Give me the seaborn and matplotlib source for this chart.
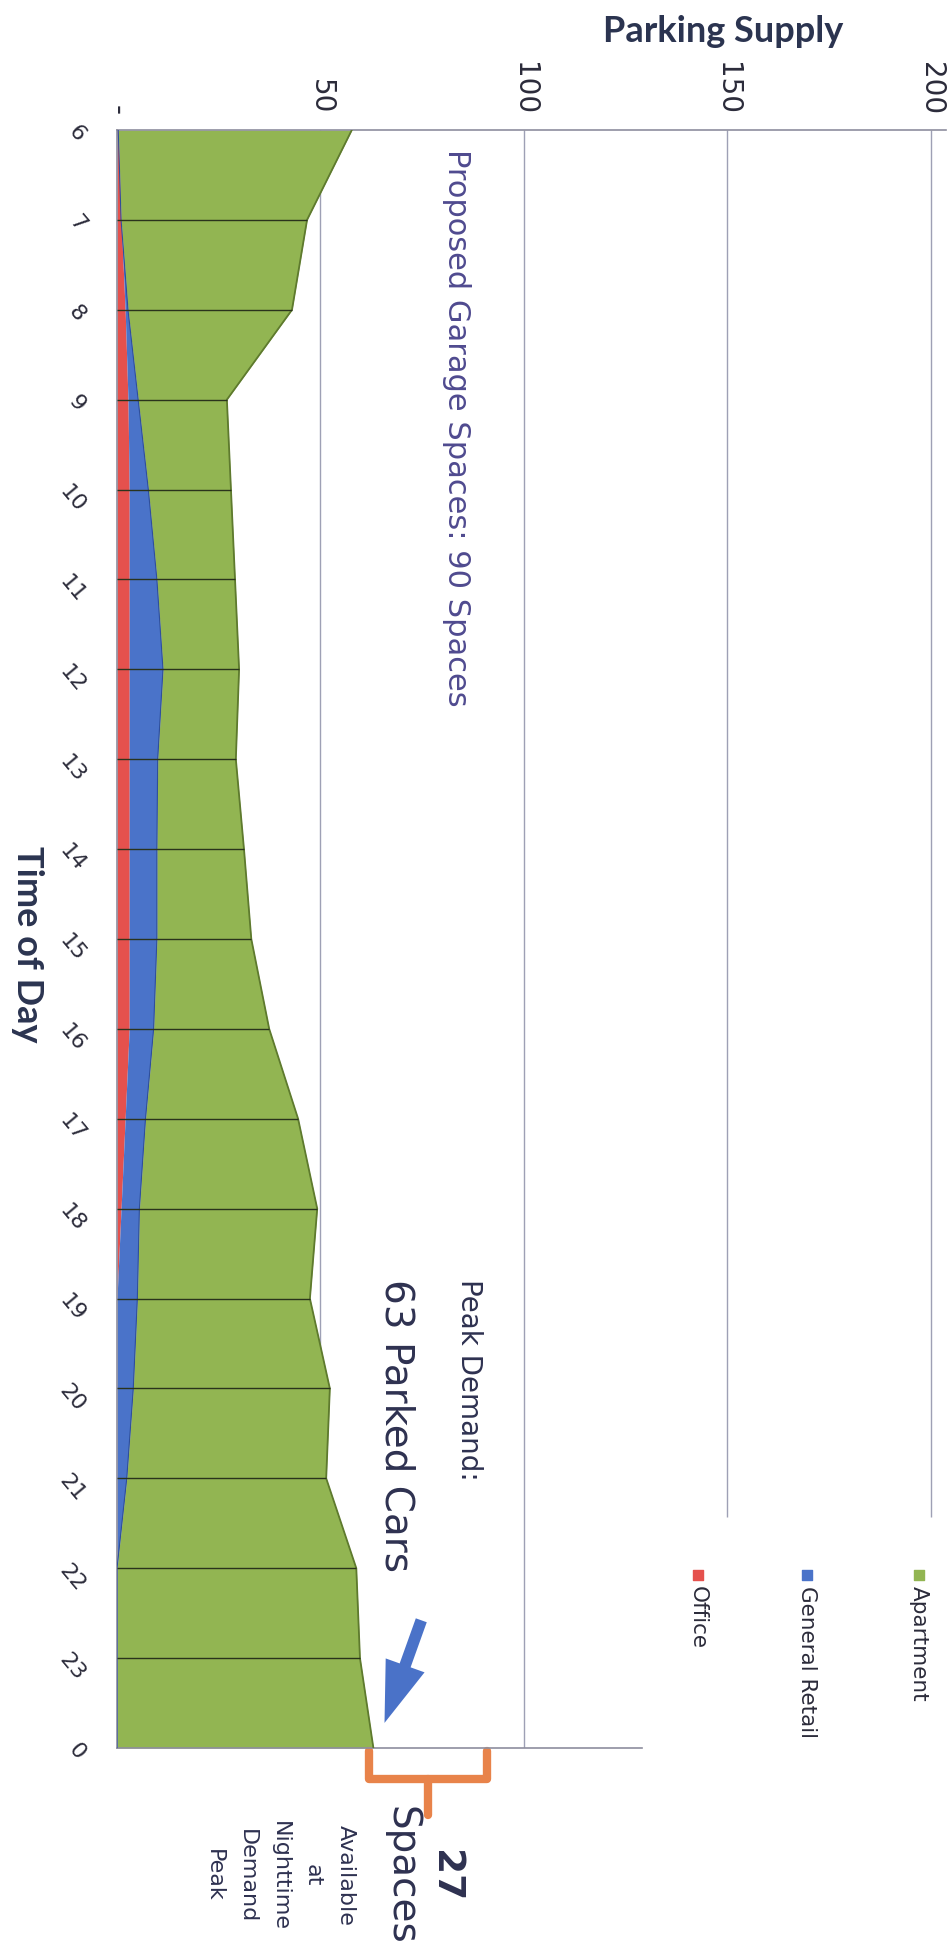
import numpy as np
import pandas as pd
import matplotlib
matplotlib.use("Agg")
import matplotlib.pyplot as plt
import seaborn as sns

# donnees (heure 6 -> 0)
hours = list(range(6, 25))
hour_labels = [str(h % 24) for h in hours]
office = [0.3, 1, 2, 2.7, 3, 3, 3, 3, 3, 3, 3, 2, 1, 0, 0, 0, 0, 0, 0]
retail = [0, 0, 0.7, 2.5, 4.7, 6.8, 8.3, 7, 6.8, 6.8, 6, 5, 4.5, 5, 4, 2.4, 0, 0, 0]
apartment = [57.4, 45.7, 40.3, 21.8, 20.3, 19.2, 18.7, 19.2, 21.4, 23.2, 28.4,
             37.5, 43.7, 42.4, 48.3, 49, 58.8, 59.7, 63]
series_names = ["Apartment", "General Retail", "Office"]
series_colors = ["#92B552", "#4A73C9", "#E5514D"]
supply_ticks = [0, 50, 100, 150, 200]
supply_labels = ["-", "50", "100", "150", "200"]
garage_spaces = 90

df = pd.DataFrame({"hour": hours, "Office": office, "General Retail": retail,
                   "Apartment": apartment})
df["c_office"] = df["Office"]
df["c_retail"] = df["c_office"] + df["General Retail"]
df["total"] = df["c_retail"] + df["Apartment"]
peak = int(round(df["total"].max()))

sns.set_style("white")
plt.rcParams["font.family"] = ["Lato", "DejaVu Sans"]
txt_col = "#2E3150"

fig = plt.figure(figsize=(9.51, 19.47), dpi=100)
ax = fig.add_axes([117 / 951, 1 - 1748 / 1947, 829 / 951, 1618 / 1947])

# grille verticale (derriere les aires)
ax.vlines([50, 100], 6, 24, color="#9EA0B5", lw=1, zorder=0)
ax.vlines([150, 200], 6, 21.43, color="#9EA0B5", lw=1, zorder=0)

# aires empilees
ax.fill_betweenx(df["hour"], 0, df["c_office"], color=series_colors[2], lw=0, zorder=2)
ax.fill_betweenx(df["hour"], df["c_office"], df["c_retail"], color=series_colors[1],
                 lw=0, zorder=2)
ax.fill_betweenx(df["hour"], df["c_retail"], df["total"], color=series_colors[0],
                 lw=0, zorder=2)
sns.lineplot(data=df, x="total", y="hour", orient="y", ax=ax, color="#5E7A2E",
             lw=1.3, zorder=3, estimator=None)
sns.lineplot(data=df, x="c_retail", y="hour", orient="y", ax=ax, color="#2F4F9A",
             lw=0.8, zorder=3, estimator=None)
ax.hlines(df["hour"][1:-1], 0, df["total"][1:-1], color="#2A331C", lw=1, zorder=4)

ax.set_xlim(0, 203.7)
ax.set_ylim(24, 6)
ax.set_xlabel("")
ax.set_ylabel("")

ax.xaxis.tick_top()
ax.set_xticks(supply_ticks)
ax.set_xticklabels(supply_labels, rotation=-90, fontsize=20, color="#2B2B3A",
                   family=["DejaVu Sans"])
ax.tick_params(axis="x", length=0, pad=11)
ax.set_yticks(hours)
ax.set_yticklabels(hour_labels, rotation=-50, fontsize=16, color="#2B2B3A",
                   family=["DejaVu Sans"])
ax.tick_params(axis="y", length=0, pad=20)

for s in ["top", "left", "bottom"]:
    ax.spines[s].set_color("#8E8E9E")
    ax.spines[s].set_linewidth(1.2)
ax.spines["right"].set_visible(False)
ax.spines["bottom"].set_bounds(0, 129)

# titres d'axes
fig.text(723 / 951, 1 - 31 / 1947, "Parking Supply", ha="center", va="center",
         fontsize=26, fontweight="bold", color="#2B3450")
fig.text(27 / 951, 1 - 944 / 1947, "Time of Day", ha="center", va="center",
         rotation=-90, fontsize=26, fontweight="bold", color="#2B3450")

# annotations
ax.text(83.3, 6.21, f"Proposed Garage Spaces: {garage_spaces} Spaces", rotation=-90,
        ha="center", va="top", fontsize=22, color="#4F4A8F", family=["DejaVu Sans"],
        zorder=5)
ax.text(86.4, 18.78, "Peak Demand:", rotation=-90, ha="center", va="top",
        fontsize=20, color=txt_col, family=["DejaVu Sans"])
ax.text(68.8, 18.78, f"{peak} Parked Cars", rotation=-90, ha="center", va="top",
        fontsize=28, color=txt_col, family=["DejaVu Sans"])
ax.annotate("", xy=(peak + 2.5, 23.75), xytext=(75, 22.55),
            arrowprops=dict(arrowstyle="simple,head_length=2.0,head_width=1.35,tail_width=0.38",
                            mutation_scale=22, color="#4A72C8", lw=0),
            annotation_clip=False)

# accolade orange : places libres
brace_col = "#E8834A"
mid = (peak + garage_spaces) / 2
ax.plot([peak - 1, peak - 1, garage_spaces + 1, garage_spaces + 1],
        [24.03, 24.35, 24.35, 24.03], color=brace_col, lw=6, clip_on=False,
        solid_joinstyle="round", solid_capstyle="round")
ax.plot([mid, mid], [24.35, 24.75], color=brace_col, lw=6, clip_on=False,
        solid_capstyle="round")

yc = 25.42
ax.text(78.1, yc, f"{garage_spaces - peak}", rotation=-90, rotation_mode="anchor",
        ha="center", va="baseline", fontsize=27, fontweight="bold", color=txt_col,
        family=["DejaVu Sans"], clip_on=False)
ax.text(67.1, yc, "Spaces", rotation=-90, rotation_mode="anchor", ha="center",
        va="baseline", fontsize=28, color=txt_col, family=["DejaVu Sans"],
        clip_on=False)
small_lines = ["Available", "at", "Nighttime", "Demand", "Peak"]
for xpos, t in zip([54.8, 46.7, 38.6, 30.5, 22.4], small_lines):
    ax.text(xpos, yc, t, rotation=-90, rotation_mode="anchor", ha="center",
            va="baseline", fontsize=16, color=txt_col, family=["DejaVu Sans"],
            clip_on=False)

# legende manuelle (texte tourne)
for xpos, name, col in zip([197, 169.5, 142.8], series_names, series_colors):
    ax.scatter([xpos], [22.08], marker="s", s=60, color=col, clip_on=False, zorder=5)
    ax.text(xpos, 22.2, name, rotation=-90, ha="center", va="top", fontsize=15.5,
            color="#2B2B3A", family=["DejaVu Sans"])

fig.savefig("out.png", dpi=100)
